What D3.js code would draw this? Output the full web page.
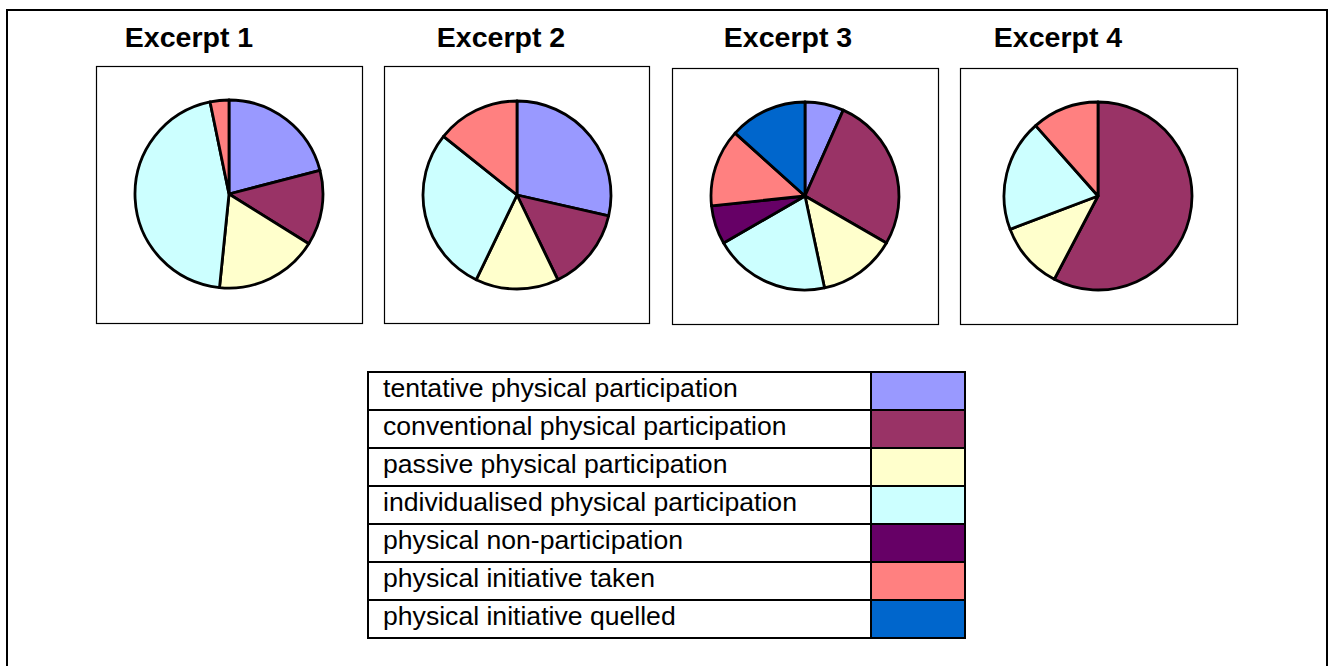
<!DOCTYPE html>
<html>
<head>
<meta charset="utf-8">
<script src="https://cdn.jsdelivr.net/npm/d3@7"></script>
<style>
  body { margin: 0; background: #fff; }
  svg { display: block; }
</style>
</head>
<body>
<div id="chart"></div>
<script>
// categories shown in the legend, same order as pie slices
const categories = [
    "tentative physical participation",
    "conventional physical participation",
    "passive physical participation",
    "individualised physical participation",
    "physical non-participation",
    "physical initiative taken",
    "physical initiative quelled"
];
const colours = ["#9999FF", "#993366", "#FFFFCC", "#CCFFFF", "#660066", "#FF8080", "#0066CC"];

const titles = ["Excerpt 1", "Excerpt 2", "Excerpt 3", "Excerpt 4"];

// counts per category
const excerpt1 = [13, 8, 11, 28, 0, 2, 0];
const excerpt2 = [4, 2, 2, 4, 0, 2, 0];
const excerpt3 = [1, 4, 2, 3, 1, 2, 2];
const excerpt4 = [0, 15, 3, 5, 0, 3, 0];
const excerpts = [excerpt1, excerpt2, excerpt3, excerpt4];

const width = 1329, height = 666;

// panel boxes: x, y, w, h and pie centre
const panels = [
    {x: 96.5, y: 66.5, w: 266, h: 257, cx: 229, cy: 194, tx: 189},
    {x: 384.5, y: 66.5, w: 265, h: 257, cx: 517, cy: 195, tx: 501},
    {x: 672.5, y: 68.5, w: 266, h: 256, cx: 805, cy: 196, tx: 788},
    {x: 960.5, y: 68.5, w: 277, h: 256, cx: 1098, cy: 196, tx: 1058}
];
const radius = 94;

const svg = d3.select("#chart").append("svg")
    .attr("width", width)
    .attr("height", height);

// outer frame
svg.append("rect")
    .attr("x", 7).attr("y", 10)
    .attr("width", 1320).attr("height", 680)
    .attr("fill", "none")
    .attr("stroke", "#000")
    .attr("stroke-width", 2);

const pie = d3.pie().sort(null).value((d) => d);
const arc = d3.arc().innerRadius(0).outerRadius(radius);

panels.forEach((p, i) => {
    svg.append("text")
        .attr("x", p.tx)
        .attr("y", 47)
        .attr("text-anchor", "middle")
        .attr("font-family", "Liberation Sans, Arial, sans-serif")
        .attr("font-weight", "bold")
        .attr("font-size", 28.5)
        .text(titles[i]);

    svg.append("rect")
        .attr("x", p.x).attr("y", p.y)
        .attr("width", p.w).attr("height", p.h)
        .attr("fill", "#fff")
        .attr("stroke", "#000")
        .attr("stroke-width", 1.2);

    const slices = pie(excerpts[i]).filter((d) => d.value > 0);
    svg.append("g")
        .attr("transform", `translate(${p.cx},${p.cy})`)
        .selectAll("path")
        .data(slices)
        .join("path")
        .attr("d", arc)
        .attr("fill", (d) => colours[d.index])
        .attr("stroke", "#000")
        .attr("stroke-width", 2.8)
        .attr("stroke-linejoin", "round");
});

// legend table
const legendX = 368, legendY = 372, rowH = 38, textW = 503, swatchW = 94;
const yRow = d3.scaleBand()
    .domain(categories)
    .range([legendY, legendY + rowH * categories.length])
    .padding(0);

const legend = svg.append("g");
const rows = legend.selectAll("g")
    .data(categories)
    .join("g")
    .attr("transform", (d) => `translate(0,${yRow(d)})`);

rows.append("rect")
    .attr("x", legendX + textW)
    .attr("width", swatchW)
    .attr("height", rowH)
    .attr("fill", (d, i) => colours[i]);

rows.append("text")
    .attr("x", legendX + 15)
    .attr("y", 24.5)
    .attr("font-family", "Liberation Sans, Arial, sans-serif")
    .attr("font-size", 26.6)
    .attr("fill", "#000")
    .text((d) => d);

// grid lines of the table
legend.append("rect")
    .attr("x", legendX).attr("y", legendY)
    .attr("width", textW + swatchW)
    .attr("height", rowH * categories.length)
    .attr("fill", "none")
    .attr("stroke", "#000")
    .attr("stroke-width", 2);

legend.selectAll("line.row")
    .data(categories.slice(1))
    .join("line")
    .attr("class", "row")
    .attr("x1", legendX).attr("x2", legendX + textW + swatchW)
    .attr("y1", (d) => yRow(d)).attr("y2", (d) => yRow(d))
    .attr("stroke", "#000")
    .attr("stroke-width", 2);

legend.append("line")
    .attr("x1", legendX + textW).attr("x2", legendX + textW)
    .attr("y1", legendY).attr("y2", legendY + rowH * categories.length)
    .attr("stroke", "#000")
    .attr("stroke-width", 2);
</script>
</body>
</html>
